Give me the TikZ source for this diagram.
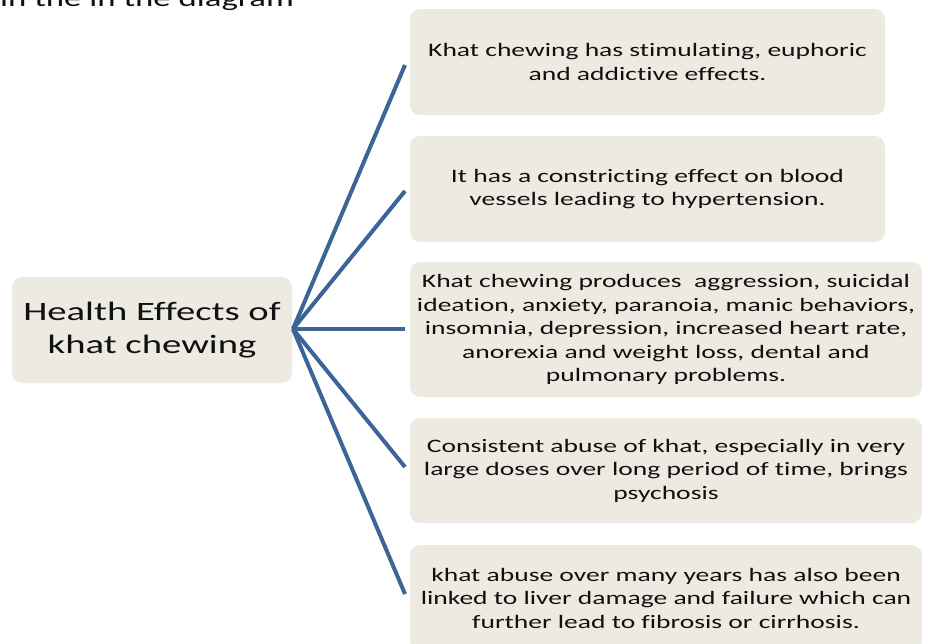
\documentclass[tikz,border=0pt]{standalone}
\usepackage{fontspec}
\setmainfont{Carlito}
\newfontfamily\bodyfont[FakeStretch=1.45, Ligatures=NoCommon]{Carlito}
\newfontfamily\titlefont[FakeStretch=1.46, Ligatures=NoCommon]{Carlito}
\definecolor{boxfill}{HTML}{EDEBE1}
\definecolor{linkblue}{HTML}{3C6496}
\definecolor{inkdark}{HTML}{101010}
\tikzset{
  effectbox/.style={fill=boxfill, draw=none, rounded corners=10pt,
    align=center, inner sep=0pt, text=inkdark,
    font=\bodyfont\fontsize{19}{23.5}\selectfont},
  hubbox/.style={effectbox, font=\titlefont\fontsize{26.5}{33}\selectfont},
  link/.style={draw=linkblue, line width=4pt}
}
\begin{document}
\begin{tikzpicture}[x=1pt, y=-1pt]
  \useasboundingbox (0,0) rectangle (928,643);
  \clip (0,0) rectangle (928,643);

  % caption line running off the top edge
  \node[anchor=base west, inner sep=0pt, text=inkdark,
        font=\bodyfont\fontsize{24}{28}\selectfont] (caption) at (0,6) {in the in the diagram};

  % central topic
  \node[hubbox, minimum width=280pt, minimum height=106pt] (hub) at (152,330)
    {Health Effects of\\khat chewing};

  % effect boxes
  \node[effectbox, minimum width=475pt, minimum height=106pt] (b1) at (647.5,62)
    {Khat chewing has stimulating, euphoric\\and addictive effects.};
  \node[effectbox, minimum width=475pt, minimum height=106pt] (b2) at (647.5,189)
    {It has a constricting effect on blood\\vessels leading to hypertension.};
  \node[effectbox, minimum width=512pt, minimum height=135pt] (b3) at (666,329.5)
    {Khat chewing produces\ \ aggression, suicidal\\ideation, anxiety, paranoia, manic behaviors,\\insomnia, depression, increased heart rate,\\anorexia and weight loss, dental and\\pulmonary problems.};
  \node[effectbox, minimum width=512pt, minimum height=105pt] (b4) at (666,470.5)
    {Consistent abuse of khat, especially in very\\large doses over long period of time, brings\\psychosis};
  \node[effectbox, minimum width=512pt, minimum height=106pt] (b5) at (666,598)
    {khat abuse over many years has also been\\linked to liver damage and failure which can\\further lead to fibrosis or cirrhosis.};

  % connector ends, just short of each box
  \coordinate (root) at (293,329);
  \coordinate (e1) at (405,65);
  \coordinate (e2) at (405,191);
  \coordinate (e3) at (405,329);
  \coordinate (e4) at (405,467);
  \coordinate (e5) at (405,594);

  \foreach \e in {e1,e2,e3,e4,e5}
    \draw[link] (root) -- (\e);
\end{tikzpicture}
\end{document}
